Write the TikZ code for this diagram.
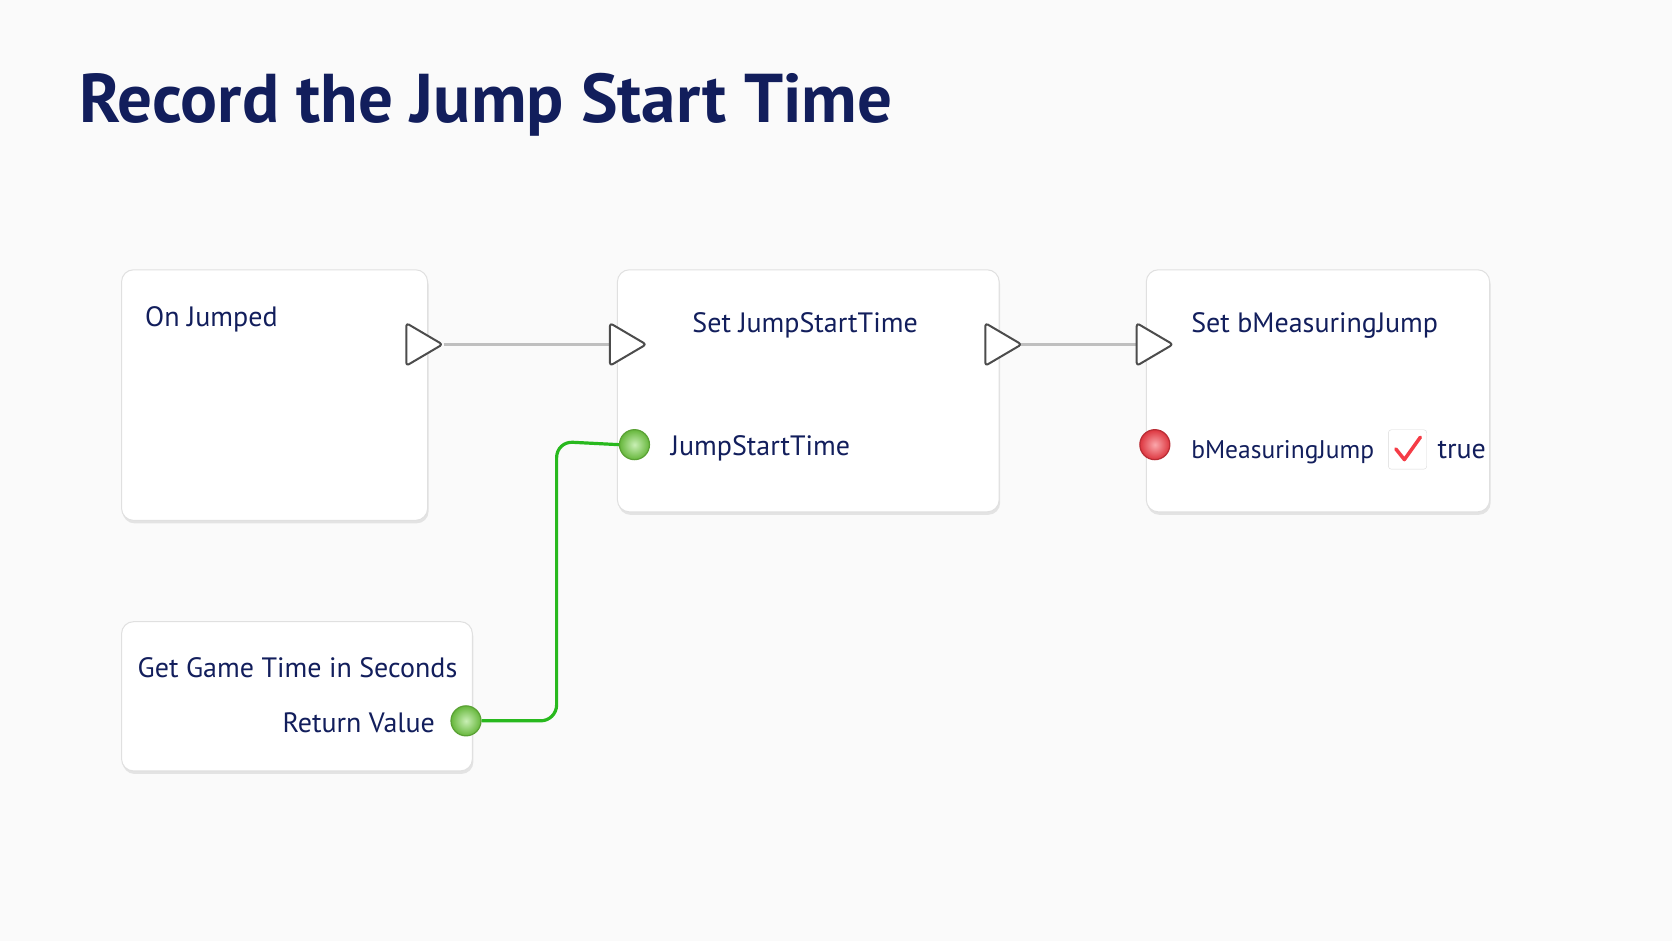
\documentclass[tikz,border=0pt]{standalone}
\usepackage{fontspec}
\setmainfont{PT Sans}
\usetikzlibrary{shadows,positioning}
\definecolor{navy}{RGB}{18,30,92}
\definecolor{pingreen}{RGB}{120,215,70}
\definecolor{wiregreen}{RGB}{40,185,30}
\definecolor{pinred}{RGB}{245,60,70}
\tikzset{
  bpnode/.style={draw=black!12,fill=white,rounded corners=12,line width=1pt,
    drop shadow={shadow xshift=1pt,shadow yshift=-3pt,opacity=0.18}},
  lbl/.style={text=navy,font=\fontsize{28}{32}\selectfont,inner sep=0},
  exec/.style={draw=black!70,fill=white,line width=2pt,rounded corners=3,line join=round},
  pin/.style={circle,minimum size=30,inner sep=0,line width=1.2pt},
}
\begin{document}
\begin{tikzpicture}[x=1.0663pt,y=-1.0663pt]
\useasboundingbox[fill=black!2] (0,0) rectangle (1568,882.4);

% title
\node[anchor=base west,text=navy,inner sep=0,font=\fontsize{69}{80}\selectfont\bfseries] (title) at (74,115) {Record the Jump Start Time};

% boxes
\draw[bpnode] (114,253) rectangle (401,488);
\draw[bpnode] (579,253) rectangle (937,480);
\draw[bpnode] (1075,253) rectangle (1397,480);
\draw[bpnode] (114,583) rectangle (443,723);

% texts
\node[lbl,anchor=base west] (onjumped) at (136,306) {On Jumped};
\node[lbl,anchor=base] (setjst) at (755,312) {Set JumpStartTime};
\node[lbl,anchor=base west] (jst) at (629,427) {JumpStartTime};
\node[lbl,anchor=base west] (setbmj) at (1117,312) {Set bMeasuringJump};
\node[lbl,anchor=base west,font=\fontsize{25.5}{30}\selectfont] (bmj) at (1117,430) {bMeasuringJump};
\node[lbl,anchor=base west] (true) at (1348,430) {true};
\node[lbl,anchor=base] (getgt) at (279,635) {Get Game Time in Seconds};
\node[lbl,anchor=base east] (retval) at (408,687) {Return Value};

% pins
\node[pin,draw=pingreen!75!black,inner color=pingreen!40,outer color=pingreen!85!black] (pinjst) at (595,417) {};
\node[pin,draw=pinred!75!black,inner color=pinred!45,outer color=pinred!90!black] (pinbmj) at (1083,417) {};
\node[pin,draw=pingreen!75!black,inner color=pingreen!40,outer color=pingreen!85!black] (pinret) at (437,676) {};

% checkbox
\draw[draw=black!15,fill=white,rounded corners=3] (1302,403) rectangle (1338,440);
\draw[pinred,line width=3.5pt,line cap=round,line join=round] (1309,421) -- (1317,431) -- (1332,410);

% exec wires
\coordinate (e1o) at (416,323);
\coordinate (e2i) at (572,323);
\coordinate (e2o) at (957,323);
\coordinate (e3i) at (1066,323);
\draw[black!25,line width=3pt] (e1o) -- (e2i);
\draw[black!25,line width=3pt] (e2o) -- (e3i);

% exec pins
\foreach \cx in {398,589,941,1083}
  \draw[exec] (\cx-17,303) -- (\cx+17,323) -- (\cx-17,343) -- cycle;

% data wire
\draw[wiregreen,line width=3.2pt,rounded corners=16] (pinret.east) -- (522,676) -- (522,414) -- (pinjst.west);
\end{tikzpicture}
\end{document}
